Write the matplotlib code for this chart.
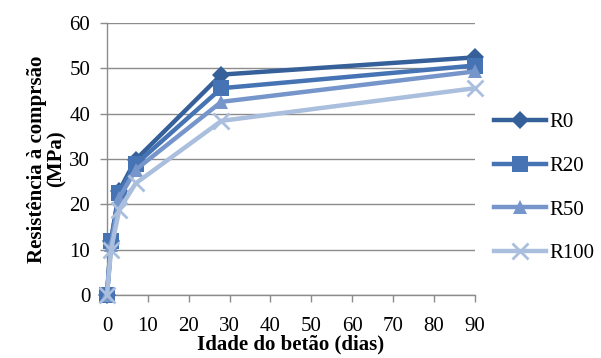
import matplotlib
matplotlib.use("Agg")
import matplotlib.pyplot as plt

days = [0, 1, 3, 7, 28, 90]
series_names = ["R0", "R20", "R50", "R100"]
r0 = [0, 12.0, 23.0, 29.8, 48.6, 52.4]
r20 = [0, 12.0, 22.6, 28.8, 45.6, 50.6]
r50 = [0, 11.0, 21.4, 27.6, 42.6, 49.3]
r100 = [0, 10.0, 18.8, 24.6, 38.4, 45.6]
x_ticks = [0, 10, 20, 30, 40, 50, 60, 70, 80, 90]
y_ticks = [0, 10, 20, 30, 40, 50, 60]

colors = ["#36609A", "#4573B3", "#7695CA", "#AABEDD"]
markers = ["D", "s", "^", "x"]
msizes = [9, 12, 10, 11]

plt.rcParams['font.family'] = ['Liberation Serif', 'DejaVu Serif']

fig = plt.figure(figsize=(6.01, 3.58), dpi=100)
ax = fig.add_axes([0.178, 0.176, 0.612, 0.760])

for vals, name, c, m, ms in zip([r0, r20, r50, r100], series_names, colors, markers, msizes):
    kw = dict(markeredgewidth=2) if m == "x" else dict(markeredgewidth=0)
    ax.plot(days, vals, color=c, lw=3.2, marker=m, markersize=ms, label=name,
            clip_on=False, zorder=3, **kw)

ax.set_xlim(0, 90)
ax.set_ylim(0, 60)
ax.set_xticks(x_ticks)
ax.set_yticks(y_ticks)
ax.grid(axis='y', color='#8c8c8c', lw=1)
ax.set_axisbelow(True)
for s in ['top', 'right']:
    ax.spines[s].set_visible(False)
for s in ['left', 'bottom']:
    ax.spines[s].set_color('#8c8c8c')
    ax.spines[s].set_linewidth(1)
ax.tick_params(axis='both', colors='#8c8c8c', labelcolor='black', labelsize=15,
               length=5, width=1, direction='out')
ax.tick_params(axis='y', pad=7)
ax.tick_params(axis='x', pad=11)

ax.set_xlabel("Idade do betão (dias)", fontsize=15, fontweight='bold', labelpad=-1)
ax.set_ylabel("Resistência à comprsão\n(MPa)", fontsize=15, fontweight='bold',
              labelpad=2, linespacing=0.95)

leg = fig.legend(loc='center left', bbox_to_anchor=(0.79, 0.475), frameon=False,
                 fontsize=15, handlelength=2.5, labelspacing=1.15, handletextpad=0.2)

fig.savefig("out.png", dpi=100)
